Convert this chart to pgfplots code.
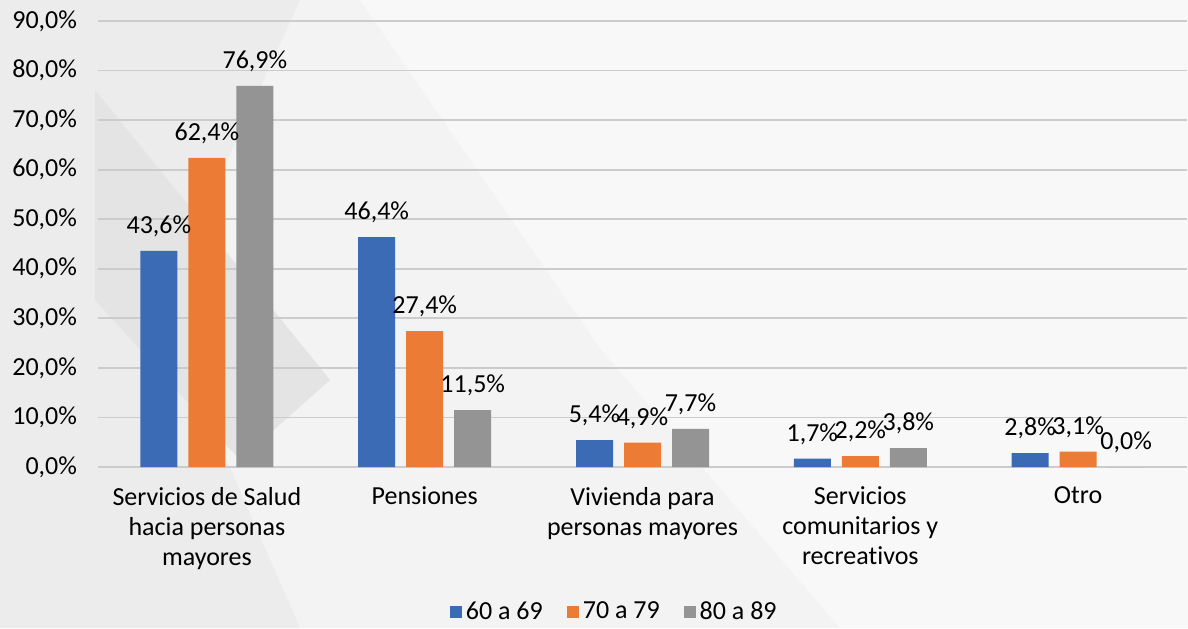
\documentclass[border=0pt]{standalone}
\usepackage{pgfplots}
\pgfplotsset{compat=1.18}
\usepackage{fontspec}
\setmainfont[Ligatures=NoCommon]{Carlito}
\definecolor{c1}{HTML}{3A6BB4}
\definecolor{c2}{HTML}{EC7B36}
\definecolor{c3}{HTML}{949494}
\definecolor{gridc}{HTML}{CCCCCC}
\definecolor{bgA}{HTML}{F3F3F3}
\definecolor{bgB}{HTML}{ECECEC}
\definecolor{bgC}{HTML}{E4E4E4}
\definecolor{bgD}{HTML}{F8F8F8}
\begin{document}
\begin{tikzpicture}
\useasboundingbox (0pt,0pt) rectangle (594pt,314pt);
% background (px -> pt: x/2, (628-y)/2)
\fill[bgA] (0pt,0pt) rectangle (594pt,314pt);
\fill[bgB] (0pt,314pt) -- (150pt,314pt) -- (80pt,160pt) -- (150pt,0pt) -- (0pt,0pt) -- cycle;
\fill[bgC] (47.5pt,269pt) -- (165pt,124pt) -- (120pt,84pt) -- (47.5pt,164pt) -- cycle;
\fill[bgD] (180pt,314pt) -- (594pt,314pt) -- (594pt,0pt) -- (420pt,0pt) -- (300pt,140pt) -- cycle;
\begin{axis}[
  at={(49pt,80.5pt)}, anchor=south west,
  scale only axis, width=544.5pt, height=223pt,
  ymin=0, ymax=90, ytick={0,10,...,90},
  xmin=-0.5, xmax=4.5, xtick={0,1,2,3,4},
  xticklabels={{Servicios de Salud\\hacia personas\\mayores},Pensiones,{Vivienda para\\personas mayores},{Servicios\\comunitarios y\\recreativos},Otro},
  xticklabel style={align=center, font=\fontsize{13}{15}\selectfont, text=black},
  yticklabel style={font=\fontsize{13}{15}\selectfont, text=black},
  /pgf/number format/assume math mode=true,
  yticklabel={\pgfmathprintnumber[fixed,fixed zerofill,precision=1,use comma]{\tick}\%},
  major tick length=0pt,
  axis x line*=bottom, axis y line*=left,
  y axis line style={draw=none},
  x axis line style={draw=gridc, line width=0.9pt, -},
  ymajorgrids, major grid style={draw=gridc, line width=0.9pt},
  ytick style={draw=none}, xtick style={draw=none},
  y tick label style={xshift=-7pt},
  x tick label style={yshift=-6.5pt},
  ybar=5.5pt, bar width=18.5pt,
  clip=false,
  nodes near coords={\pgfmathprintnumber[fixed,fixed zerofill,precision=1,use comma]{\pgfplotspointmeta}\%},
  every node near coord/.append style={font=\fontsize{13}{15}\selectfont, text=black, yshift=3.5pt},
  legend columns=3,
  legend style={at={(0.475,-0.325)}, anchor=center, draw=none, fill=none,
    font=\fontsize{13}{15}\selectfont, text=black,
    /tikz/every even column/.append style={column sep=10pt}},
  legend image code/.code={\fill[#1] (0pt,-3pt) rectangle (6pt,3pt);},
]
\addplot[fill=c1, draw=none] coordinates {(0,43.6) (1,46.4) (2,5.4) (3,1.7) (4,2.8)};
\addplot[fill=c2, draw=none] coordinates {(0,62.4) (1,27.4) (2,4.9) (3,2.2) (4,3.1)};
\addplot[fill=c3, draw=none] coordinates {(0,76.9) (1,11.5) (2,7.7) (3,3.8) (4,0.0)};
\legend{60 a 69, 70 a 79, 80 a 89}
\end{axis}
\end{tikzpicture}
\end{document}
